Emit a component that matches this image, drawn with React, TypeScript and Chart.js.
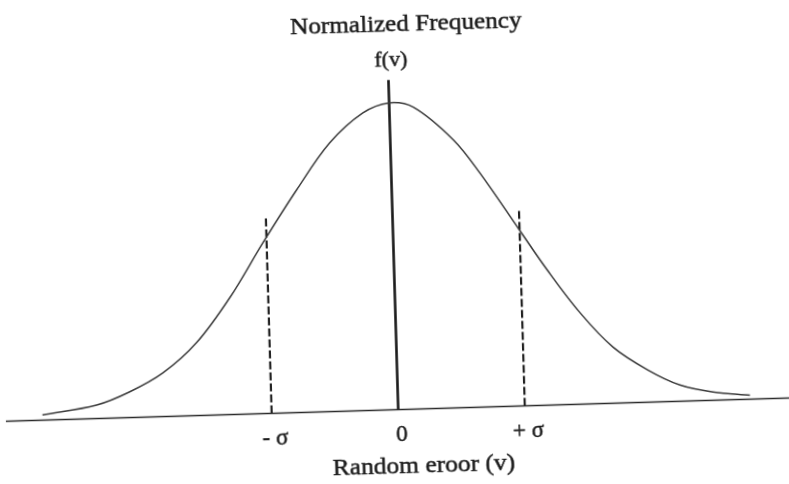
import { useEffect, useRef } from 'react';
import { Chart, registerables } from 'chart.js';

Chart.register(...registerables);

// Random error v, in units of sigma, and the normalized frequency f(v)
const curveV = [-2.81, -2.38, -2.12, -1.85, -1.58, -1.3, -1.03, -0.75, -0.48, -0.21, 0, 0.19, 0.5, 0.7, 1.0, 1.21, 1.46, 1.71, 1.98, 2.23, 2.49, 2.78];
const curveF = [0.017, 0.044, 0.083, 0.142, 0.236, 0.383, 0.556, 0.726, 0.875, 0.97, 1.0, 0.984, 0.873, 0.763, 0.573, 0.44, 0.297, 0.183, 0.105, 0.053, 0.027, 0.013];

// Axis extents and the marker lines
const axisRange = [-3.1, 3.1];
const axisTop = 1.075;
const sigmaMarks = [-1, 1];
const sigmaMarkHeight = 0.64;

// Text
const tickValues = [-1, 0, 1];
const tickLabels = ['- σ', '0', '+ σ'];
const yTitle = 'Normalized Frequency';
const yLabel = 'f(v)';
const xTitle = 'Random eroor (v)';

const SERIF = '"Liberation Serif", "Times New Roman", serif';
const INK = '#1c1c1c';

const textPlugin = {
  id: 'figureText',
  afterDraw(chart: any) {
    const { ctx, scales } = chart;
    const xs = scales.x;
    const ys = scales.y;
    const x0 = xs.getPixelForValue(0);
    const base = ys.getPixelForValue(0);
    const draw = (text: string, px: number, py: number, size: number, stretch = 1) => {
      ctx.save();
      ctx.translate(px, py);
      ctx.scale(stretch, 1);
      ctx.font = `${size}px ${SERIF}`;
      ctx.fillStyle = INK;
      ctx.strokeStyle = INK;
      ctx.lineWidth = 0.5;
      ctx.textAlign = 'center';
      ctx.textBaseline = 'middle';
      ctx.fillText(text, 0, 0);
      ctx.strokeText(text, 0, 0);
      ctx.restore();
    };
    draw(yTitle, x0 + 19, 25, 24, 1.05);
    draw(yLabel, x0 + 3, 60, 22);
    tickValues.forEach((v, i) => draw(tickLabels[i], xs.getPixelForValue(v) + 3, base + 25, 23));
    draw(xTitle, x0 + 24, base + 57, 24, 1.06);
  },
};

export default function App() {
  const canvasRef = useRef<HTMLCanvasElement | null>(null);

  useEffect(() => {
    const canvas = canvasRef.current;
    if (!canvas) return;

    const curve = curveV.map((v, i) => ({ x: v, y: curveF[i] }));
    const baseline = axisRange.map((v) => ({ x: v, y: 0 }));
    const centre = [{ x: 0, y: 0 }, { x: 0, y: axisTop }];

    const chart = new Chart(canvas, {
      type: 'scatter',
      data: {
        datasets: [
          {
            data: baseline,
            showLine: true,
            borderColor: '#2a2a2a',
            borderWidth: 1.6,
            pointRadius: 0,
            clip: false,
          },
          {
            data: curve,
            showLine: true,
            borderColor: '#3a3a3a',
            borderWidth: 1.5,
            pointRadius: 0,
            tension: 0.35,
            clip: false,
          },
          {
            data: centre,
            showLine: true,
            borderColor: '#1a1a1a',
            borderWidth: 2.6,
            pointRadius: 0,
            clip: false,
          },
          ...sigmaMarks.map((m) => ({
            data: [{ x: m, y: 0 }, { x: m, y: sigmaMarkHeight }],
            showLine: true,
            borderColor: '#222222',
            borderWidth: 2.2,
            borderDash: [8, 3],
            pointRadius: 0,
            clip: false,
          })),
        ],
      },
      options: {
        responsive: false,
        animation: false,
        layout: { padding: { left: 1, right: 3, top: 10.7, bottom: 74.5 } },
        plugins: { legend: { display: false }, tooltip: { enabled: false } },
        scales: {
          x: { type: 'linear', min: axisRange[0], max: axisRange[1], display: false },
          y: { type: 'linear', min: 0, max: 1.3, display: false },
        },
      },
      plugins: [textPlugin],
    } as any);

    return () => chart.destroy();
  }, []);

  return (
    <div style={{ position: 'absolute', left: 0, top: 0, width: 789, height: 484, overflow: 'hidden', background: '#fff' }}>
      <canvas
        ref={canvasRef}
        width={789}
        height={484}
        style={{ display: 'block', transform: 'rotate(-1.7deg)', transformOrigin: '400px 250px' }}
      />
    </div>
  );
}
